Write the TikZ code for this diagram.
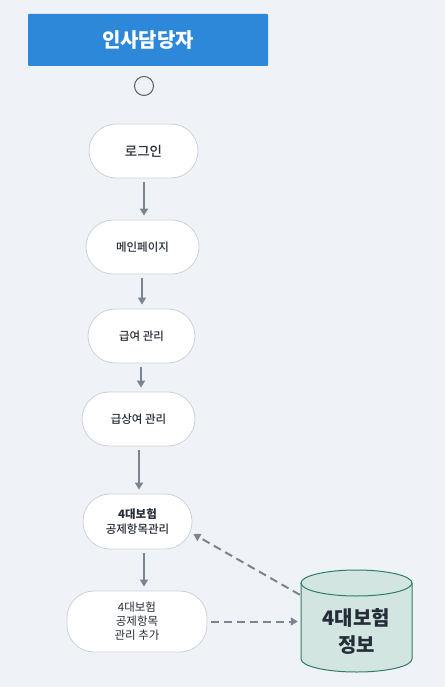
\documentclass[tikz,border=0pt]{standalone}
\usepackage{fontspec}
\setmainfont{Noto Sans CJK KR}
\newfontfamily\medfont{Noto Sans CJK KR Medium}
\usetikzlibrary{arrows.meta}
\definecolor{bgpanel}{HTML}{EFF3F7}
\definecolor{titleblue}{HTML}{2E88D9}
\definecolor{stepline}{HTML}{C9D2DC}
\definecolor{arrowgray}{HTML}{7A8593}
\definecolor{dbfill}{HTML}{D2E5E0}
\definecolor{dbline}{HTML}{2E7D67}
\definecolor{inktext}{HTML}{252D38}

\begin{document}
\begin{tikzpicture}[x=1pt, y=-1pt]
    \tikzset{
        stepbox/.style={draw=stepline, line width=0.8pt, fill=white, rounded corners=27pt,
            minimum height=54pt, align=center, text=inktext, font=\medfont\fontsize{11.5}{14.5}\selectfont},
        flow arrow/.style={draw=arrowgray, line width=2pt, -{Triangle[length=7pt, width=8pt]}},
        data arrow/.style={flow arrow, dash pattern=on 8pt off 5pt},
        db edge/.style={draw=dbline, line width=1pt},
    }
    \fill[bgpanel] (0, 0) rectangle (445, 687);
    \useasboundingbox (0, 0) rectangle (445, 687);

    \node[fill=titleblue, rounded corners=1pt, minimum width=240pt, minimum height=52pt,
        text=white, font=\fontsize{20}{24}\bfseries] (actor) at (148, 40) {인사담당자};
    \node[circle, draw=arrowgray!70!black, line width=1pt, minimum size=19pt] (start) at (144, 86) {};

    \node[stepbox, minimum width=109pt, font=\medfont\fontsize{13.5}{16}\selectfont] (login) at (143.5, 151) {로그인};
    \node[stepbox, minimum width=113pt] (mainpage) at (142.5, 247) {메인페이지};
    \node[stepbox, minimum width=107pt] (payroll) at (141.5, 336) {급여 관리};
    \node[stepbox, minimum width=113pt] (bonus) at (138.5, 419) {급상여 관리};
    \node[stepbox, minimum width=109pt, minimum height=55pt] (deduct) at (137.5, 521.5)
        {\textbf{4대보험}\\공제항목관리};
    \node[stepbox, minimum width=140pt, minimum height=61pt, font=\fontsize{11.5}{14}\selectfont] (additem) at (137, 621.5)
        {4대보험\\공제항목\\관리 추가};

    % database cylinder
    \node[minimum width=111pt, minimum height=102pt, inner sep=0pt] (insdb) at (356.5, 621) {};
    \fill[dbfill] (301, 583) -- (301, 659) arc[start angle=180, end angle=0, x radius=55.5, y radius=13]
        -- (412, 583) -- cycle;
    \filldraw[db edge, fill=dbfill] (356.5, 583) ellipse[x radius=55.5, y radius=13];
    \draw[db edge] (301, 583) -- (301, 659) arc[start angle=180, end angle=0, x radius=55.5, y radius=13]
        -- (412, 583);
    \node[text=inktext, align=center, font=\fontsize{20}{27}\bfseries] (dbtext) at (356.5, 631) {4대보험\\정보};

    % main flow
    \draw[flow arrow] ([shift={(0.5pt,-4pt)}]login.south) -- ([shift={(0.5pt,4pt)}]login.south |- mainpage.north);
    \draw[flow arrow] ([shift={(-0.5pt,-4pt)}]mainpage.south) -- ([shift={(-0.5pt,4pt)}]mainpage.south |- payroll.north);
    \draw[flow arrow] ([shift={(-0.5pt,-4pt)}]payroll.south) -- ([shift={(-0.5pt,4pt)}]payroll.south |- bonus.north);
    \draw[flow arrow] ([shift={(0.5pt,-4pt)}]bonus.south) -- ([shift={(0.5pt,4pt)}]bonus.south |- deduct.north);
    \draw[flow arrow] ([shift={(6.5pt,-4pt)}]deduct.south) -- ([shift={(6.5pt,4pt)}]deduct.south |- additem.north);

    \draw[data arrow] ([xshift=4pt]additem.east) -- ([xshift=-3pt]insdb.west |- additem.east);
    \draw[data arrow] ([shift={(-1pt,-25pt)}]insdb.north west) -- ([shift={(1pt,-12.5pt)}]deduct.east);
\end{tikzpicture}
\end{document}
